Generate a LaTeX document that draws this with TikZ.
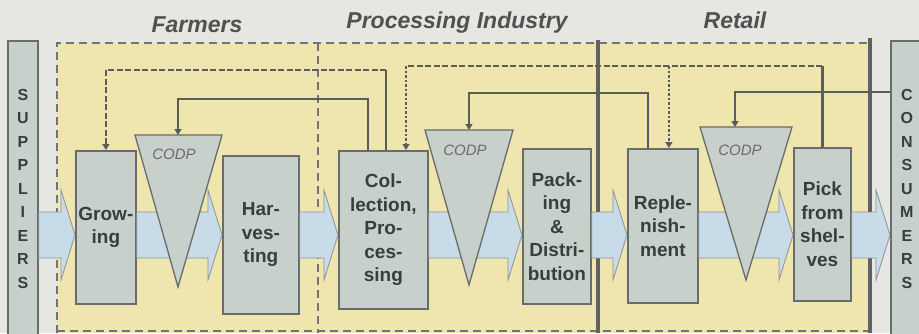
\documentclass[tikz,border=0pt]{standalone}
\usepackage{fontspec}
\setmainfont{Liberation Sans}
\usetikzlibrary{positioning,arrows.meta,calc}
\definecolor{paper}{HTML}{E6E6E3}
\definecolor{zonefill}{HTML}{EFE5AE}
\definecolor{stagefill}{HTML}{C8D0CB}
\definecolor{stageline}{HTML}{686C6A}
\definecolor{flowfill}{HTML}{C8DBE8}
\definecolor{flowline}{HTML}{8E9294}
\definecolor{infocol}{HTML}{595D5B}
\definecolor{labelcol}{HTML}{36403A}
\definecolor{titlecol}{HTML}{4E5250}

% block arrow of the goods flow, from one node to the next
\newcommand{\flowarrow}[2]{%
  \draw[flow] (#1.east |- 0,212) -- ($(#2.west |- 0,212)+(-14,0)$) -- ++(0,-22)
    -- (#2.west |- 0,235) -- ($(#2.west |- 0,280)+(-14,0)$) -- ++(0,-22)
    -- (#1.east |- 0,258) -- cycle;}

\begin{document}
\begin{tikzpicture}[x=1pt,y=-1pt,
  stage/.style={draw=stageline, line width=1.8pt, fill=stagefill, anchor=north west, inner sep=0pt,
    align=center, text=labelcol, font=\fontsize{19}{23.5}\selectfont\bfseries},
  party/.style={stage, font=\fontsize{16}{23.5}\selectfont\bfseries},
  codp/.style={draw=stageline, line width=1.3pt, fill=stagefill},
  codplbl/.style={font=\fontsize{15}{18}\selectfont\itshape, text=stageline},
  zonetitle/.style={font=\fontsize{23}{26}\selectfont\bfseries\itshape, text=titlecol},
  border/.style={draw=black!55, line width=1.9pt, dash pattern=on 8pt off 5pt},
  wall/.style={draw=black!62, line width=3.5pt},
  flow/.style={fill=flowfill, draw=flowline, line width=0.8pt},
  info/.style={draw=infocol, line width=2.2pt},
  tip/.style={-{Triangle[length=6pt,width=7pt]}},
  share/.style={draw=infocol, line width=1.3pt, dash pattern=on 6pt off 2.5pt},
  drop/.style={draw=infocol, line width=2.4pt, dash pattern=on 2.5pt off 2pt}]
\useasboundingbox[fill=paper] (0,0) rectangle (919,333);

% zones of the chain
\fill[zonefill] (57,43) rectangle (870,333);
\draw[border] (57,333) -- (57,43) -- (868,43);
\draw[border] (57,331) -- (868,331);
\draw[border] (318,43) -- (318,333);
\draw[wall] (598,40) -- (598,333);
\draw[wall] (870,38) -- (870,333);

\node[zonetitle] (farmers) at (197,25) {Farmers};
\node[zonetitle] (industry) at (457,23) {Processing Industry};
\node[zonetitle] (retail) at (735,20) {Retail};

% outside partners
\node[party, minimum width=30, minimum height=296] (suppliers) at (7,40) {S\\U\\P\\P\\L\\I\\E\\R\\S};
\node[party, minimum width=32, minimum height=296] (consumers) at (890,40) {C\\O\\N\\S\\U\\M\\E\\R\\S};

% stages
\node[stage, minimum width=60, minimum height=153] (growing) at (75,150) {Grow-\\ing};
\node[stage, minimum width=76, minimum height=158] (harvesting) at (222,155) {Har-\\ves-\\ting};
\node[stage, minimum width=89, minimum height=158] (collection) at (338,150) {Col-\\lection,\\Pro-\\ces-\\sing};
\node[stage, minimum width=68, minimum height=155] (packing) at (522,148) {Pack-\\ing\\\&\\Distri-\\bution};
\node[stage, minimum width=70, minimum height=154] (replenish) at (627,148) {Reple-\\nish-\\ment};
\node[stage, minimum width=57, minimum height=153] (picking) at (793,147) {Pick\\from\\shel-\\ves};

% goods flow
\flowarrow{suppliers}{growing}
\flowarrow{growing}{harvesting}
\flowarrow{harvesting}{collection}
\flowarrow{collection}{packing}
\flowarrow{packing}{replenish}
\flowarrow{replenish}{picking}
\flowarrow{picking}{consumers}

% decoupling points
\draw[codp] (135,135) -- (222,135) -- (178,287) -- cycle;
\coordinate (codp1) at (178,135);
\node[codplbl] (codp1lbl) at (174,154) {CODP};
\draw[codp] (425,130) -- (513,130) -- (469,285) -- cycle;
\coordinate (codp2) at (469,130);
\node[codplbl] (codp2lbl) at (465,150) {CODP};
\draw[codp] (700,127) -- (792,127) -- (746,280) -- cycle;
\coordinate (codp3) at (735,127);
\node[codplbl] (codp3lbl) at (740,150) {CODP};

% order information
\draw[info,tip] ([xshift=30]collection.north west) -- ++(0,-51) -| (codp1);
\draw[info,tip] ([xshift=21]replenish.north west) -- ++(0,-55) -| (codp2);
\draw[info,tip] (consumers.west |- 0,92) -| (codp3);

% shared information
\draw[info] ([xshift=48]collection.north west) -- ++(0,-80) coordinate (j2);
\draw[share,tip] (j2) -| (growing.north);
\draw[info] (picking.north) -- ++(0,-81) coordinate (j3);
\coordinate (c3) at ([xshift=68]collection.north west);
\coordinate (r3) at ([xshift=6]replenish.north);
\draw[share] (j3) -- (j3 -| c3);
\draw[drop,tip] (j3 -| c3) -- (c3);
\draw[drop,tip] (j3 -| r3) -- (r3);
\end{tikzpicture}
\end{document}
